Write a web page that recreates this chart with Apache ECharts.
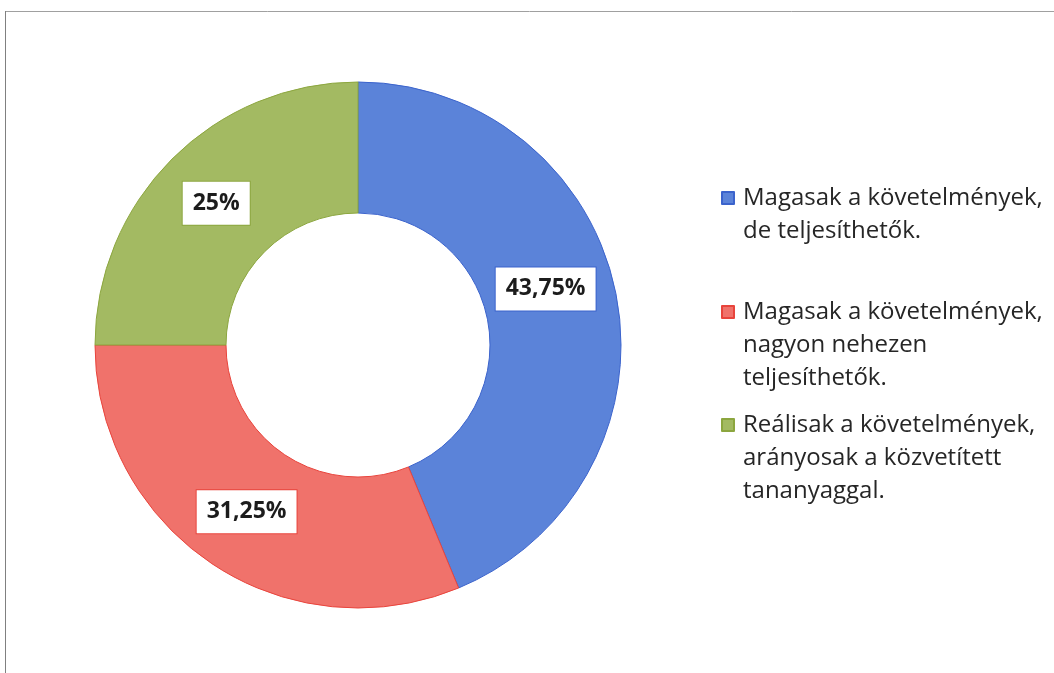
<!DOCTYPE html>
<html>
<head>
<meta charset="utf-8">
<script src="https://cdn.jsdelivr.net/npm/echarts@6/dist/echarts.min.js"></script>
<style>
html, body { margin: 0; padding: 0; background: #fff; }
#charts { width: 1054px; height: 673px; }
</style>
</head>
<body>
<div id="charts"></div>
<script>
var categories = [
    'Magasak a követelmények,\nde teljesíthetők.',
    'Magasak a követelmények,\nnagyon nehezen\nteljesíthetők.',
    'Reálisak a követelmények,\narányosak a közvetített\ntananyaggal.'
];
var shares = [43.75, 31.25, 25];
var fills = ['#5b83d9', '#f0726b', '#a3ba62'];
var edges = ['#3b63cc', '#e8443c', '#8ca63f'];

// legend layout: icon centre y of each entry, line height of its text
var legendIconY = [198, 312, 425];
var lh = 33;

// square icon at the top of a tall box so the first text line sits beside it
var legends = categories.map(function (name, i) {
    var n = name.split('\n').length;
    var h = 12 + (n - 1) * lh;
    return {
        orient: 'vertical',
        left: 721,
        top: legendIconY[i] - lh / 2,
        padding: 0,
        itemWidth: 16,
        itemHeight: h,
        icon: 'path://M0,0L12,0L12,12L0,12Z M16,' + h + 'L16,' + h,
        selectedMode: false,
        data: [name],
        textStyle: {
            fontFamily: 'Open Sans',
            fontSize: 24,
            color: '#262626',
            lineHeight: lh
        }
    };
});

var myChart = echarts.init(document.getElementById('charts'));
var option = {
    animation: false,
    legend: legends,
    graphic: [{
        type: 'line',
        shape: { x1: 5, y1: 11.5, x2: 1054, y2: 11.5 },
        style: { stroke: '#a0a0a0', lineWidth: 1 }
    }, {
        type: 'line',
        shape: { x1: 5.5, y1: 11, x2: 5.5, y2: 673 },
        style: { stroke: '#808080', lineWidth: 1 }
    }],
    series: [{
        type: 'pie',
        center: [358, 345],
        radius: [132, 263],
        startAngle: 90,
        clockwise: true,
        label: {
            show: true,
            position: 'inside',
            formatter: function (p) {
                return String(p.value).replace('.', ',') + '%';
            },
            fontFamily: 'Open Sans',
            fontSize: 23,
            fontWeight: 'bold',
            lineHeight: 30,
            color: '#1c1c1c',
            backgroundColor: '#fff',
            borderWidth: 1,
            padding: [7, 10, 6, 10]
        },
        labelLine: { show: false },
        data: shares.map(function (v, i) {
            var d = {
                name: categories[i],
                value: v,
                itemStyle: { color: fills[i], borderColor: edges[i], borderWidth: 1 },
                label: { borderColor: edges[i] }
            };
            if (i === 0) d.label.offset = [-9, -17];
            return d;
        })
    }]
};
myChart.setOption(option);
</script>
</body>
</html>
